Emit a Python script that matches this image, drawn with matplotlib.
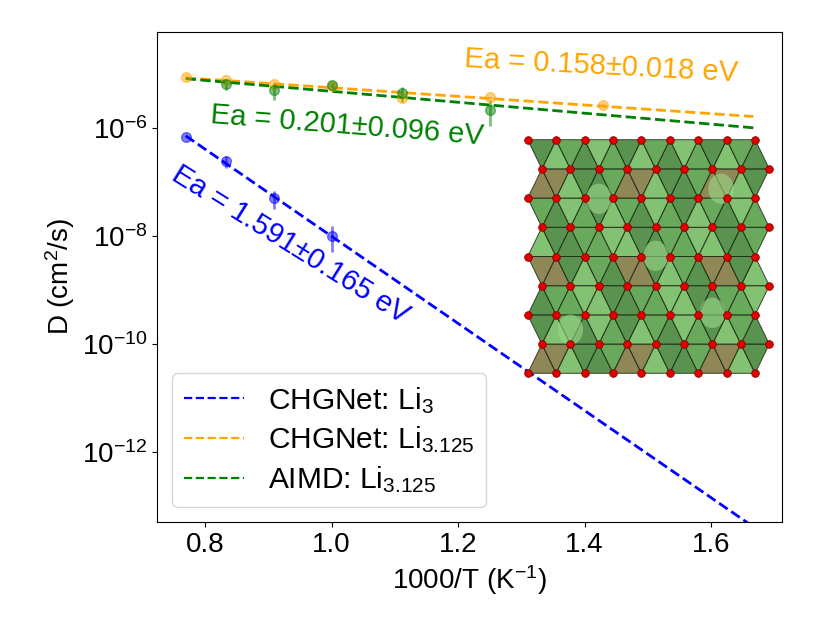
import numpy as np
import matplotlib
matplotlib.use("Agg")
import matplotlib.pyplot as plt
from matplotlib.patches import Polygon, Circle

plt.rcParams['font.family'] = ['Liberation Sans', 'DejaVu Sans']
plt.rcParams['mathtext.fontset'] = 'custom'
plt.rcParams['mathtext.rm'] = 'Liberation Sans'
plt.rcParams['mathtext.it'] = 'Liberation Sans:italic'
plt.rcParams['font.size'] = 20

# temperatures (K) of the MD runs and diffusivities (cm^2/s)
li3_temps = [1300, 1200, 1100, 1000]
li3_D = [6.9e-7, 2.4e-7, 5.0e-8, 1.0e-8]
li3_err = [0.0, 0.6e-7, 1.8e-8, 0.5e-8]

chg_temps = [1300, 1200, 1100, 1000, 900, 800, 700]
chg_D = [8.9e-6, 7.8e-6, 6.5e-6, 6.0e-6, 3.6e-6, 3.7e-6, 2.7e-6]
chg_err = [0.2e-6, 0.3e-6, 0.3e-6, 0.3e-6, 0.4e-6, 0.3e-6, 0.2e-6]

aimd_temps = [1200, 1100, 1000, 900, 800]
aimd_D = [6.5e-6, 5.0e-6, 6.3e-6, 4.4e-6, 2.2e-6]
aimd_err = [1.5e-6, 1.7e-6, 0.5e-6, 1.4e-6, 1.1e-6]

fit_temps = (1300, 600)

labels = ['CHGNet: Li$_3$', 'CHGNet: Li$_{3.125}$', 'AIMD: Li$_{3.125}$']
colors = ['blue', 'orange', 'green']
ea_texts = ['Ea = 1.591±0.165 eV', 'Ea = 0.158±0.018 eV', 'Ea = 0.201±0.096 eV']


def arrhenius_fit(temps, D):
    x = 1000 / np.asarray(temps, dtype=float)
    p = np.polyfit(x, np.log10(D), 1)
    xf = np.linspace(1000 / fit_temps[0], 1000 / fit_temps[1], 50)
    return xf, 10 ** np.polyval(p, xf)


fig = plt.figure(figsize=(8.3, 6.4), dpi=100)
ax = fig.add_axes([0.1895, 0.1844, 0.7523, 0.7656])

series = [(li3_temps, li3_D, li3_err), (chg_temps, chg_D, chg_err),
          (aimd_temps, aimd_D, aimd_err)]
for (temps, D, err), c, lab in zip(series, colors, labels):
    x = 1000 / np.asarray(temps, dtype=float)
    ax.errorbar(x, D, yerr=err, fmt='o', color=c, alpha=0.5,
                markersize=7, elinewidth=2, capsize=0)
    xf, yf = arrhenius_fit(temps, D)
    ax.plot(xf, yf, '--', color=c, lw=2, label=lab)

ax.set_yscale('log')
ax.set_ylim(10 ** -13.3, 10 ** -4.22)
ax.set_yticks([1e-12, 1e-10, 1e-8, 1e-6])
ax.yaxis.set_minor_locator(matplotlib.ticker.NullLocator())
ax.set_xticks([0.8, 1.0, 1.2, 1.4, 1.6])
ax.set_xlabel('1000/T (K$^{-1}$)')
ax.set_ylabel('D (cm$^2$/s)')

# activation energy labels
ax.text(0.934, 6.8e-9, ea_texts[0], color='blue', rotation=-32,
        ha='center', va='center', rotation_mode='anchor', fontsize=21)
ax.text(1.426, 1.41e-5, ea_texts[1], color='orange', rotation=-3,
        ha='center', va='center', rotation_mode='anchor', fontsize=21)
ax.text(1.024, 1.09e-6, ea_texts[2], color='green', rotation=-4.5,
        ha='center', va='center', rotation_mode='anchor', fontsize=21)

leg = ax.legend(loc='lower left', fontsize=21.5, labelspacing=0.3,
                borderaxespad=0.5)
for line in leg.get_lines():
    line.set_linewidth(1.6)

# crystal structure inset (sketch)
ins = fig.add_axes([522 / 830, 1 - 380 / 640, 253 / 830, 247 / 640])
ins.axis('off')
nx, ny = 8, 8
h = 0.87
V = {}
for j in range(ny + 1):
    for i in range(nx + 1):
        V[(i, j)] = (i + 0.5 * (j % 2), j * h)
greens = ['#4f9a3f', '#6db65a', '#3d8030']
for j in range(ny):
    for i in range(nx):
        if j % 2 == 0:
            tris = [[(i, j), (i + 1, j), (i, j + 1)],
                    [(i + 1, j), (i, j + 1), (i + 1, j + 1)]]
        else:
            tris = [[(i, j), (i + 1, j), (i + 1, j + 1)],
                    [(i, j), (i, j + 1), (i + 1, j + 1)]]
        for k, t in enumerate(tris):
            if (i % 3 == 0) and (j % 3 == 0):
                fc = '#7d7238'
            else:
                fc = greens[(i + j + k) % 3]
            ins.add_patch(Polygon([V[p] for p in t], closed=True, fc=fc,
                                  ec='#1a2a14', lw=0.7, alpha=0.85))
for cx, cy in [(1.5, 1.3), (4.5, 3.5), (6.5, 1.8), (2.5, 5.2), (6.8, 5.5)]:
    ins.add_patch(Circle((cx, cy), 0.45, fc='#9ad98a', ec='none', alpha=0.6))
pts = np.array(list(V.values()))
ins.plot(pts[:, 0], pts[:, 1], 'o', color='#e00000', mec='#8a0000',
         mew=0.6, markersize=5.5)
ins.set_xlim(-0.2, nx + 0.7)
ins.set_ylim(-0.2, ny * h + 0.2)

fig.savefig('out.png', dpi=100)
